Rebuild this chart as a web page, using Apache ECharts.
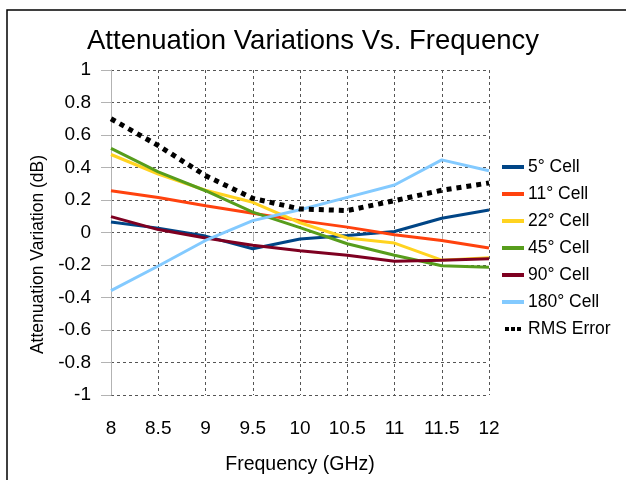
<!DOCTYPE html>
<html>
<head>
<meta charset="utf-8">
<script src="https://cdn.jsdelivr.net/npm/echarts@6/dist/echarts.min.js"></script>
<style>
html,body{margin:0;padding:0;background:#fff;}
#chart{width:626px;height:480px;}
</style>
</head>
<body>
<div id="chart"></div>
<script>
const frequencies = [8, 8.5, 9, 9.5, 10, 10.5, 11, 11.5, 12];
const cell5   = [0.065, 0.027, -0.022, -0.100, -0.040, -0.018, 0.006, 0.088, 0.139];
const cell11  = [0.257, 0.216, 0.165, 0.118, 0.073, 0.033, -0.014, -0.049, -0.096];
const cell22  = [0.480, 0.360, 0.260, 0.186, 0.060, -0.034, -0.065, -0.170, -0.155];
const cell45  = [0.518, 0.373, 0.257, 0.125, 0.030, -0.069, -0.140, -0.205, -0.214];
const cell90  = [0.098, 0.018, -0.034, -0.079, -0.113, -0.140, -0.177, -0.171, -0.161];
const cell180 = [-0.358, -0.206, -0.049, 0.073, 0.140, 0.216, 0.292, 0.447, 0.380];
const rmsError = [0.700, 0.535, 0.350, 0.210, 0.145, 0.135, 0.196, 0.260, 0.305];
const seriesNames = ['5° Cell', '11° Cell', '22° Cell', '45° Cell', '90° Cell', '180° Cell', 'RMS Error'];
const seriesColors = ['#004586', '#ff420e', '#ffd320', '#579d1c', '#7e0021', '#83caff', '#000000'];
const yTicks = [-1, -0.8, -0.6, -0.4, -0.2, 0, 0.2, 0.4, 0.6, 0.8, 1];

const allValues = [cell5, cell11, cell22, cell45, cell90, cell180, rmsError];
const font = 'Liberation Sans, Arial, sans-serif';
const lineIcon = 'path://M0,0H22V4H0Z';
const dotIcon = 'path://M0,0H4V4H0Z M6,0H10V4H6Z M12,0H16V4H12Z';

const series = allValues.map((vals, i) => {
  const isRms = i === 6;
  return {
    name: seriesNames[i],
    type: 'line',
    data: frequencies.map((f, j) => [f, vals[j]]),
    showSymbol: false,
    symbol: 'none',
    z: isRms ? 3 : 2,
    lineStyle: {
      color: seriesColors[i],
      width: isRms ? 5 : 3,
      type: isRms ? [5, 5] : 'solid',
      cap: 'butt'
    },
    itemStyle: { color: seriesColors[i] }
  };
});

const chart = echarts.init(document.getElementById('chart'), null, { renderer: 'canvas' });
chart.setOption({
  animation: false,
  backgroundColor: '#ffffff',
  graphic: [{
    type: 'rect',
    shape: { x: 7, y: 10, width: 700, height: 600 },
    style: { fill: 'none', stroke: '#000', lineWidth: 1.5 },
    silent: true
  }],
  title: {
    text: 'Attenuation Variations Vs. Frequency',
    left: 'center',
    top: 22,
    textStyle: { fontFamily: font, fontSize: 27.5, fontWeight: 'normal', color: '#000' }
  },
  grid: { left: 111, right: 137, top: 70, bottom: 83, containLabel: false },
  legend: {
    orient: 'vertical',
    left: 497,
    top: 153,
    itemGap: 9,
    itemWidth: 22,
    itemHeight: 4,
    data: seriesNames.map((n, i) => ({ name: n, icon: i === 6 ? dotIcon : lineIcon })),
    textStyle: { fontFamily: font, fontSize: 17.5, lineHeight: 18, color: '#000', padding: [0, 0, 0, -1] }
  },
  xAxis: {
    type: 'value',
    min: 8, max: 12, interval: 0.5,
    name: 'Frequency (GHz)',
    nameLocation: 'middle',
    nameGap: 60,
    nameTextStyle: { fontFamily: font, fontSize: 19.5, color: '#000' },
    axisLine: { show: false },
    axisTick: { show: true, length: 8, lineStyle: { color: '#b3b3b3' } },
    axisLabel: { fontFamily: font, fontSize: 19, color: '#000', margin: 24 },
    splitLine: { show: true, lineStyle: { color: '#555', type: [3, 3], width: 1 } }
  },
  yAxis: {
    type: 'value',
    min: -1, max: 1, interval: 0.2,
    name: 'Attenuation Variation (dB)',
    nameLocation: 'middle',
    nameGap: 64,
    nameTextStyle: { fontFamily: font, fontSize: 17.5, color: '#000', padding: [0, 44, 0, 0] },
    axisLine: { show: true, onZero: false, lineStyle: { color: '#b3b3b3', width: 1 } },
    axisTick: { show: true, length: 10, lineStyle: { color: '#b3b3b3' } },
    axisLabel: {
      fontFamily: font, fontSize: 19, color: '#000', margin: 20,
      formatter: v => {
        const t = yTicks.find(k => Math.abs(k - v) < 1e-6);
        return String(t !== undefined ? t : v);
      }
    },
    splitLine: { show: true, lineStyle: { color: '#555', type: [3, 3], width: 1 } }
  },
  series: series
});
</script>
</body>
</html>
